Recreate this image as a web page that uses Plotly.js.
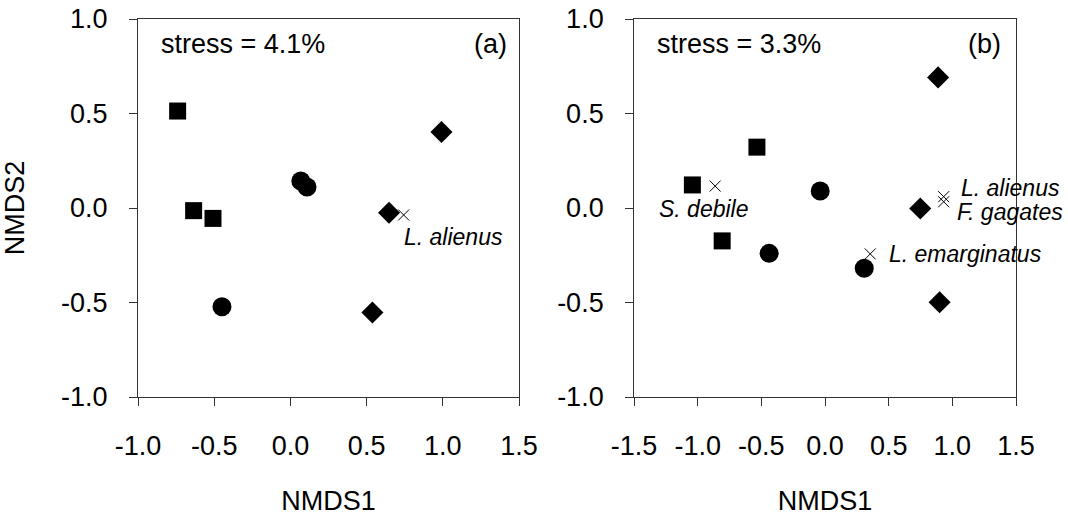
<!DOCTYPE html>
<html>
<head>
<meta charset="utf-8">
<script src="https://cdn.plot.ly/plotly-3.0.1.min.js"></script>
<style>html,body{margin:0;padding:0;background:#fff;} #chart{width:1068px;height:516px;}</style>
</head>
<body>
<div id="chart"></div>
<script>
// Panel (a)
const aSquareX = [-0.74, -0.635, -0.508];
const aSquareY = [0.513, -0.014, -0.055];
const aCircleX = [0.068, 0.109, -0.449];
const aCircleY = [0.143, 0.111, -0.522];
const aDiamondX = [0.991, 0.647, 0.538];
const aDiamondY = [0.402, -0.025, -0.553];
const aSpeciesX = [0.743];
const aSpeciesY = [-0.037];
const aLabelNames = ['L. alienus'];
const aLabelX = [0.73];
const aLabelY = [-0.153];

// Panel (b)
const bSquareX = [-0.535, -1.042, -0.808];
const bSquareY = [0.322, 0.122, -0.174];
const bCircleX = [-0.038, -0.439, 0.308];
const bCircleY = [0.09, -0.24, -0.319];
const bDiamondX = [0.888, 0.748, 0.9];
const bDiamondY = [0.691, -0.003, -0.499];
const bSpeciesX = [-0.863, 0.932, 0.932, 0.355];
const bSpeciesY = [0.116, 0.06, 0.033, -0.243];
const bLabelNames = ['S. debile', 'L. alienus', 'F. gagates', 'L. emarginatus'];
const bLabelX = [-1.322, 1.05, 1.024, 0.489];
const bLabelY = [-0.005, 0.106, -0.022, -0.243];

const stressText = ['stress = 4.1%', 'stress = 3.3%'];
const panelText = ['(a)', '(b)'];
const xTicksA = [-1.0, -0.5, 0.0, 0.5, 1.0, 1.5];
const xTickTextA = ['-1.0', '-0.5', '0.0', '0.5', '1.0', '1.5'];
const xTicksB = [-1.5, -1.0, -0.5, 0.0, 0.5, 1.0, 1.5];
const xTickTextB = ['-1.5', '-1.0', '-0.5', '0.0', '0.5', '1.0', '1.5'];
const yTicks = [-1.0, -0.5, 0.0, 0.5, 1.0];
const yTickText = ['-1.0', '-0.5', '0.0', '0.5', '1.0'];

const FONT = 'Liberation Sans, Arial, sans-serif';
const FS = 27;
function mk(x, y, sym, size, xa, ya) {
  return {x: x, y: y, type: 'scatter', mode: 'markers', xaxis: xa, yaxis: ya,
    marker: {symbol: sym, size: size, color: '#000', line: {width: 0}}, showlegend: false, hoverinfo: 'skip'};
}
function cross(x, y, xa, ya) {
  return {x: x, y: y, type: 'scatter', mode: 'markers', xaxis: xa, yaxis: ya,
    marker: {symbol: 'x-thin-open', size: 11, color: '#000', line: {width: 1, color: '#000'}}, showlegend: false, hoverinfo: 'skip'};
}
const data = [
  mk(aSquareX, aSquareY, 'square', 17, 'x', 'y'),
  mk(aCircleX, aCircleY, 'circle', 19, 'x', 'y'),
  mk(aDiamondX, aDiamondY, 'diamond', 17, 'x', 'y'),
  cross(aSpeciesX, aSpeciesY, 'x', 'y'),
  mk(bSquareX, bSquareY, 'square', 17, 'x2', 'y2'),
  mk(bCircleX, bCircleY, 'circle', 19, 'x2', 'y2'),
  mk(bDiamondX, bDiamondY, 'diamond', 17, 'x2', 'y2'),
  cross(bSpeciesX, bSpeciesY, 'x2', 'y2')
];

const annotations = [];
function lab(names, xs, ys, xr, yr) {
  names.forEach((n, i) => annotations.push({text: '<i>' + n + '</i>', x: xs[i], y: ys[i], xref: xr, yref: yr,
    xanchor: 'left', yanchor: 'middle', showarrow: false, font: {family: FONT, size: 23, color: '#000'}}));
}
lab(aLabelNames, aLabelX, aLabelY, 'x', 'y');
lab(bLabelNames, bLabelX, bLabelY, 'x2', 'y2');
function corner(t, x, xr, yr, anchor) {
  annotations.push({text: t, x: x, y: 0.867, xref: xr, yref: yr, xanchor: anchor, yanchor: 'middle', showarrow: false,
    font: {family: FONT, size: FS, color: '#000'}});
}
corner(stressText[0], -0.864, 'x', 'y', 'left');
corner(panelText[0], 1.432, 'x', 'y', 'right');
corner(stressText[1], -1.335, 'x2', 'y2', 'left');
corner(panelText[1], 1.401, 'x2', 'y2', 'right');

const axBase = {showline: true, linecolor: '#333', linewidth: 1, mirror: true, ticks: 'outside', ticklen: 8, tickcolor: '#333', tickwidth: 1,
  showgrid: false, zeroline: false, tickfont: {family: FONT, size: FS, color: '#000'}, fixedrange: true};

const layout = {
  width: 1068, height: 516,
  margin: {l: 138, r: 52, t: 19, b: 119},
  paper_bgcolor: '#fff', plot_bgcolor: '#fff',
  font: {family: FONT, color: '#000'},
  xaxis: Object.assign({}, axBase, {domain: [0, 0.434], range: [-1, 1.5], tickvals: xTicksA, ticktext: xTickTextA, ticklabelstandoff: 17,
    title: {text: 'NMDS1', font: {family: FONT, size: FS, color: '#000'}, standoff: 36}, anchor: 'y'}),
  yaxis: Object.assign({}, axBase, {domain: [0, 1], range: [-1, 1], tickvals: yTicks, ticktext: yTickText, ticklabelstandoff: 16,
    title: {text: 'NMDS2', font: {family: FONT, size: FS, color: '#000'}, standoff: 42}, anchor: 'x'}),
  xaxis2: Object.assign({}, axBase, {domain: [0.565, 1], range: [-1.5, 1.5], tickvals: xTicksB, ticktext: xTickTextB, ticklabelstandoff: 17,
    title: {text: 'NMDS1', font: {family: FONT, size: FS, color: '#000'}, standoff: 36}, anchor: 'y2'}),
  yaxis2: Object.assign({}, axBase, {domain: [0, 1], range: [-1, 1], tickvals: yTicks, ticktext: yTickText, ticklabelstandoff: 16, anchor: 'x2'}),
  annotations: annotations
};
Plotly.newPlot('chart', data, layout, {displayModeBar: false, staticPlot: true});
</script>
</body>
</html>
